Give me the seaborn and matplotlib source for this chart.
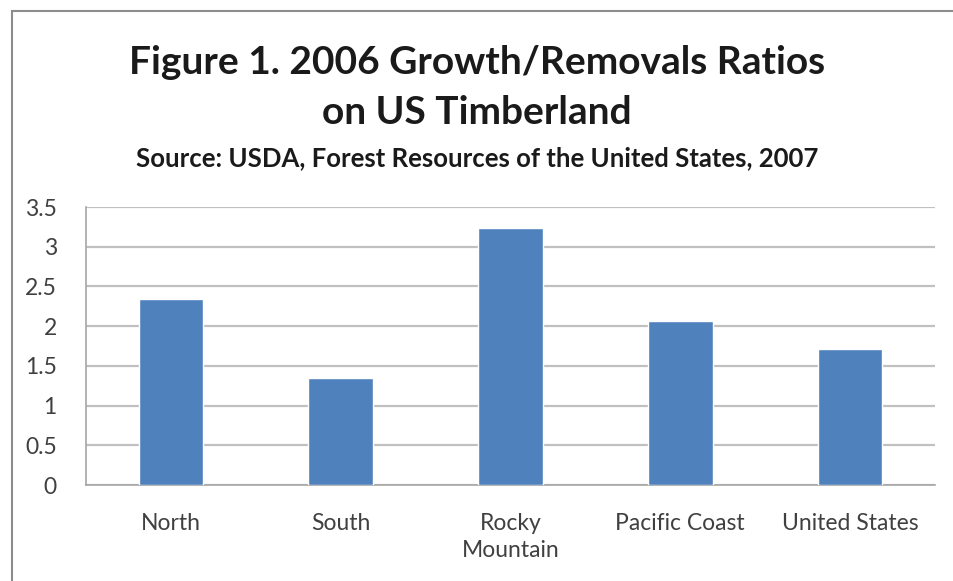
import matplotlib.pyplot as plt
import seaborn as sns
import pandas as pd
from matplotlib.patches import Rectangle

# Data
regions = ['North', 'South', 'Rocky\nMountain', 'Pacific Coast', 'United States']
ratios = [2.34, 1.35, 3.23, 2.07, 1.71]
yticks = [0, 0.5, 1, 1.5, 2, 2.5, 3, 3.5]
ytick_labels = ['0', '0.5', '1', '1.5', '2', '2.5', '3', '3.5']

df = pd.DataFrame({'region': regions, 'ratio': ratios})

sns.set_style('white')
plt.rcParams['font.family'] = ['Lato', 'DejaVu Sans']

fig = plt.figure(figsize=(9.54, 5.81), dpi=100)
ax = fig.add_axes([86 / 954, 1 - 485 / 581, (935 - 86) / 954, (485 - 207) / 581])

sns.barplot(data=df, x='region', y='ratio', color='#4F81BD', width=0.38,
            saturation=1, ax=ax, zorder=3)

ax.set_ylim(0, 3.5)
ax.set_xlim(-0.5, len(regions) - 0.5)
ax.set_yticks(yticks)
ax.set_yticklabels(ytick_labels)
ax.set_xlabel('')
ax.set_ylabel('')

# gridlines and axes, Excel style
ax.grid(axis='y', color='#C0C0C0', linewidth=1.6, zorder=0)
for s in ['top', 'right']:
    ax.spines[s].set_visible(False)
ax.spines['left'].set_color('#A6A6A6')
ax.spines['bottom'].set_color('#A6A6A6')
ax.spines['left'].set_linewidth(1.2)
ax.spines['bottom'].set_linewidth(1.2)
ax.tick_params(axis='y', which='major', length=9, color='#C0C0C0', width=1.6,
               labelsize=16.5, labelcolor='#404040', pad=12)
ax.tick_params(axis='x', which='major', length=0, labelsize=16.5,
               labelcolor='#404040', pad=20)
for lbl in ax.get_xticklabels():
    lbl.set_linespacing(1.35)
ax.set_xticks([i - 0.5 for i in range(len(regions) + 1)], minor=True)
ax.tick_params(axis='x', which='minor', length=9, color='#A6A6A6', width=1.2,
               direction='out')

# titles
fig.text(0.5, 1 - 62 / 581, 'Figure 1. 2006 Growth/Removals Ratios', ha='center',
         va='center', fontsize=28, fontweight='bold', color='#1A1A1A')
fig.text(0.5, 1 - 112 / 581, 'on US Timberland', ha='center', va='center',
         fontsize=28, fontweight='bold', color='#1A1A1A')
fig.text(0.5, 1 - 158 / 581, 'Source: USDA, Forest Resources of the United States, 2007',
         ha='center', va='center', fontsize=18.5, fontweight='bold', color='#1A1A1A')

# outer chart frame
fig.patches.append(Rectangle((12 / 954, -0.1), 1.2, 1 - 11 / 581 + 0.1,
                             transform=fig.transFigure, fill=False,
                             edgecolor='#8C8C8C', linewidth=1.5))

fig.savefig('out.png', dpi=100)
